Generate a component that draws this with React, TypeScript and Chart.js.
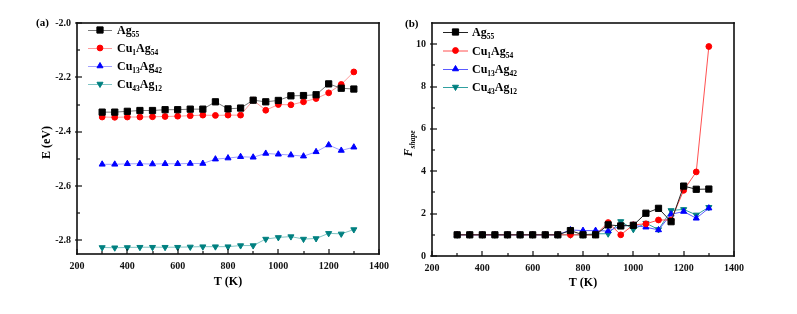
import React, { useEffect, useRef } from "react";
import { Chart, registerables } from "chart.js";

Chart.register(...registerables);

// ---------- data ----------
const temps = [300, 350, 400, 450, 500, 550, 600, 650, 700, 750, 800, 850, 900, 950, 1000, 1050, 1100, 1150, 1200, 1250, 1300];
const seriesNames = ["Ag55", "Cu1Ag54", "Cu13Ag42", "Cu43Ag12"];

// panel (a): E (eV)
const eAg55 = [-2.328, -2.328, -2.325, -2.322, -2.322, -2.319, -2.319, -2.317, -2.317, -2.290, -2.316, -2.313, -2.284, -2.290, -2.285, -2.268, -2.267, -2.264, -2.224, -2.240, -2.243];
const eCu1Ag54 = [-2.346, -2.347, -2.346, -2.346, -2.345, -2.344, -2.343, -2.341, -2.339, -2.340, -2.339, -2.339, -2.284, -2.321, -2.300, -2.301, -2.290, -2.278, -2.257, -2.226, -2.180];
const eCu13Ag42 = [-2.520, -2.520, -2.518, -2.518, -2.519, -2.518, -2.518, -2.517, -2.517, -2.501, -2.497, -2.492, -2.494, -2.480, -2.483, -2.486, -2.490, -2.474, -2.449, -2.469, -2.457];
const eCu43Ag12 = [-2.826, -2.827, -2.826, -2.825, -2.825, -2.825, -2.825, -2.824, -2.823, -2.823, -2.823, -2.819, -2.819, -2.795, -2.789, -2.786, -2.795, -2.793, -2.774, -2.776, -2.760];

// panel (b): F_shape
const fAg55 = [1.0, 1.0, 1.0, 1.0, 1.0, 1.0, 1.0, 1.0, 1.0, 1.2, 1.0, 1.0, 1.47, 1.42, 1.45, 2.02, 2.25, 1.62, 3.3, 3.15, 3.16];
const fCu1Ag54 = [1.0, 1.0, 1.0, 1.0, 1.0, 1.0, 1.0, 1.0, 1.0, 1.0, 1.0, 1.0, 1.58, 1.0, 1.47, 1.52, 1.7, 1.7, 3.1, 3.97, 9.89];
const fCu13Ag42 = [1.0, 1.0, 1.0, 1.0, 1.0, 1.0, 1.0, 1.0, 1.0, 1.23, 1.2, 1.2, 1.18, 1.42, 1.45, 1.36, 1.23, 1.97, 2.1, 1.78, 2.26];
const fCu43Ag12 = [1.0, 1.0, 1.0, 1.0, 1.0, 1.0, 1.0, 1.0, 1.0, 1.0, 1.0, 1.05, 1.05, 1.63, 1.26, 1.55, 1.25, 2.15, 2.2, 1.94, 2.3];

// ticks
const xMajorTicks = [200, 400, 600, 800, 1000, 1200, 1400];
const xMinorTicks = [300, 500, 700, 900, 1100, 1300];
const yMajorTicksA = [-2.8, -2.6, -2.4, -2.2, -2.0];
const yMinorTicksA = [-2.7, -2.5, -2.3, -2.1];
const yMajorTicksB = [0, 2, 4, 6, 8, 10];
const yMinorTicksB = [1, 3, 5, 7, 9];

// ---------- styling ----------
const FONT = "'Liberation Serif', 'Times New Roman', serif";
const AXIS_COLOR = "#111111";
const markerColors = ["#000000", "#ff0000", "#0000ff", "#008080"];
const lineColorsA = ["#7a7a7a", "#ff9a9a", "#a0a0ff", "#80c4c4"];
const lineColorsB = ["#222222", "#ff5050", "#5a5aff", "#30a0a0"];
const markerStyles = ["rect", "circle", "triangle", "triangle"];
const markerRot = [0, 0, 0, 180];
const markerRadius = [4.4, 2.9, 3.5, 3.5];

type Marker = { style: string; rot: number; r: number; color: string };

function drawMarker(ctx: CanvasRenderingContext2D, x: number, y: number, m: Marker) {
  ctx.save();
  ctx.fillStyle = m.color;
  ctx.strokeStyle = m.color;
  ctx.lineWidth = 1;
  ctx.beginPath();
  if (m.style === "rect") {
    const s = m.r * Math.SQRT1_2;
    ctx.rect(x - s, y - s, 2 * s, 2 * s);
  } else if (m.style === "circle") {
    ctx.arc(x, y, m.r, 0, Math.PI * 2);
  } else {
    let rad = (m.rot * Math.PI) / 180;
    ctx.moveTo(x + Math.sin(rad) * m.r, y - Math.cos(rad) * m.r);
    rad += (2 * Math.PI) / 3;
    ctx.lineTo(x + Math.sin(rad) * m.r, y - Math.cos(rad) * m.r);
    rad += (2 * Math.PI) / 3;
    ctx.lineTo(x + Math.sin(rad) * m.r, y - Math.cos(rad) * m.r);
    ctx.closePath();
  }
  ctx.fill();
  ctx.stroke();
  ctx.restore();
}

function splitFormula(name: string): [string, boolean][] {
  const out: [string, boolean][] = [];
  const re = /([A-Za-z]+)(\d*)/g;
  let m: RegExpExecArray | null;
  while ((m = re.exec(name)) !== null) {
    if (!m[0]) break;
    out.push([m[1], false]);
    if (m[2]) out.push([m[2], true]);
  }
  return out;
}

function drawRich(ctx: CanvasRenderingContext2D, x: number, baseline: number, parts: [string, boolean][], size: number, subSize: number, italic = false) {
  let cx = x;
  for (const [t, sub] of parts) {
    ctx.font = `${italic ? "italic " : ""}bold ${sub ? subSize : size}px ${FONT}`;
    ctx.fillText(t, cx, baseline + (sub ? size * 0.28 : 0));
    cx += ctx.measureText(t).width;
  }
  return cx - x;
}

type PanelCfg = {
  id: string;
  label: string;
  lineColors: string[];
  yMajor: number[];
  yMinor: number[];
  legendLineX: [number, number];
  legendTextX: number;
  legendRows: number[];
  labelPos: [number, number];
  yTitleX: number;
  yTitle: [string, boolean][];
  yTitleItalic: boolean;
  xTitleY: number;
};

function makeOverlay(cfg: PanelCfg) {
  return {
    id: "overlay" + cfg.id,
    afterDraw(chart: any) {
      const ctx: CanvasRenderingContext2D = chart.ctx;
      const ca = chart.chartArea;
      const xs = chart.scales.x;
      const ys = chart.scales.y;
      ctx.save();
      ctx.globalAlpha = 1;
      ctx.globalCompositeOperation = "source-over";
      ctx.fillStyle = "#000";
      ctx.textAlign = "left";
      ctx.textBaseline = "alphabetic";
      seriesNames.forEach((name, i) => {
        const y = cfg.legendRows[i];
        ctx.strokeStyle = cfg.lineColors[i];
        ctx.lineWidth = 1;
        ctx.beginPath();
        ctx.moveTo(cfg.legendLineX[0], y + 0.5);
        ctx.lineTo(cfg.legendLineX[1], y + 0.5);
        ctx.stroke();
        drawMarker(ctx, (cfg.legendLineX[0] + cfg.legendLineX[1]) / 2, y, {
          style: markerStyles[i], rot: markerRot[i], r: markerRadius[i], color: markerColors[i],
        });
        ctx.fillStyle = "#000";
        drawRich(ctx, cfg.legendTextX, y + 4, splitFormula(name), 12, 7.5);
      });

      ctx.fillStyle = "#000";
      ctx.font = `bold 11px ${FONT}`;
      ctx.textAlign = "left";
      ctx.textBaseline = "middle";
      ctx.fillText(cfg.label, cfg.labelPos[0], cfg.labelPos[1]);

      ctx.font = `bold 12px ${FONT}`;
      ctx.textAlign = "center";
      ctx.textBaseline = "middle";
      ctx.fillText("T (K)", (ca.left + ca.right) / 2, cfg.xTitleY);

      ctx.save();
      ctx.translate(cfg.yTitleX, (ca.top + ca.bottom) / 2 + 4);
      ctx.rotate(-Math.PI / 2);
      ctx.textAlign = "left";
      let w = 0;
      for (const [t, sub] of cfg.yTitle) {
        ctx.font = `${cfg.yTitleItalic ? "italic " : ""}bold ${sub ? 7.5 : 12}px ${FONT}`;
        w += ctx.measureText(t).width;
      }
      ctx.textBaseline = "alphabetic";
      drawRich(ctx, -w / 2, 4, cfg.yTitle, 12, 7.5, cfg.yTitleItalic);
      ctx.restore();

      // frame as filled bars (drawn last)
      const L = Math.round(ca.left), R = Math.round(ca.right);
      const T = Math.round(ca.top), B = Math.round(ca.bottom);
      const lw = 1.6;
      ctx.fillStyle = AXIS_COLOR;
      ctx.fillRect(L - lw / 2, T - lw / 2, R - L + lw, lw); // top
      ctx.fillRect(L - lw / 2, B - lw / 2, R - L + lw, lw); // bottom
      ctx.fillRect(L - lw / 2, T - lw / 2, lw, B - T + lw); // left
      ctx.fillRect(R - lw / 2, T - lw / 2, lw, B - T + lw); // right

      // inward ticks
      for (const v of xMajorTicks) {
        const px = Math.round(xs.getPixelForValue(v));
        ctx.fillRect(px - 0.6, B - 5, 1.2, 5);
      }
      for (const v of xMinorTicks) {
        const px = Math.round(xs.getPixelForValue(v));
        ctx.fillRect(px - 0.6, B - 3, 1.2, 3);
      }
      for (const v of cfg.yMajor) {
        const py = Math.round(ys.getPixelForValue(v));
        ctx.fillRect(L - 2, py - 0.6, 7, 1.2);
      }
      for (const v of cfg.yMinor) {
        const py = Math.round(ys.getPixelForValue(v));
        ctx.fillRect(L, py - 0.6, 3, 1.2);
      }

      ctx.restore();
    },
  };
}

function buildDatasets(values: number[][], lineColors: string[]) {
  return values.map((vals, i) => ({
    label: seriesNames[i],
    data: temps.map((t, k) => ({ x: t, y: vals[k] })),
    borderColor: lineColors[i],
    borderWidth: 1,
    backgroundColor: markerColors[i],
    pointBackgroundColor: markerColors[i],
    pointBorderColor: markerColors[i],
    pointBorderWidth: 1,
    pointStyle: markerStyles[i] as any,
    pointRotation: markerRot[i],
    pointRadius: markerRadius[i],
    tension: 0,
    fill: false,
  }));
}

function buildConfig(opts: {
  datasets: any[];
  yMin: number;
  yMax: number;
  yMajor: number[];
  yFmt: (v: number) => string;
  yWidth: number;
  xHeight: number;
  padding: { left: number; right: number; top: number; bottom: number };
  plugins: any[];
}) {
  const tickFont = { family: FONT, size: 10, weight: "bold" as const };
  return {
    type: "line" as const,
    data: { datasets: opts.datasets },
    options: {
      responsive: false,
      animation: false as const,
      devicePixelRatio: 1,
      layout: { padding: opts.padding },
      plugins: { legend: { display: false }, tooltip: { enabled: false } },
      scales: {
        x: {
          type: "linear" as const,
          min: 200,
          max: 1400,
          afterBuildTicks: (s: any) => { s.ticks = xMajorTicks.map((v) => ({ value: v })); },
          afterFit: (s: any) => { s.height = opts.xHeight; },
          grid: { display: false, drawTicks: false },
          border: { display: false },
          ticks: { font: tickFont, color: "#111", padding: 6, maxRotation: 0, autoSkip: false, callback: (v: any) => String(v) },
        },
        y: {
          type: "linear" as const,
          min: opts.yMin,
          max: opts.yMax,
          afterBuildTicks: (s: any) => { s.ticks = opts.yMajor.map((v) => ({ value: v })); },
          afterFit: (s: any) => { s.width = opts.yWidth; },
          grid: { display: false, drawTicks: false },
          border: { display: false },
          ticks: { font: tickFont, color: "#111", padding: 6, autoSkip: false, callback: (v: any) => opts.yFmt(Number(v)) },
        },
      },
    },
    plugins: opts.plugins,
  };
}

export default function App() {
  const refA = useRef<HTMLCanvasElement>(null);
  const refB = useRef<HTMLCanvasElement>(null);

  useEffect(() => {
    const cfgA: PanelCfg = {
      id: "A",
      label: "(a)",
      lineColors: lineColorsA,
      yMajor: yMajorTicksA,
      yMinor: yMinorTicksA,
      legendLineX: [88, 112],
      legendTextX: 117,
      legendRows: [30, 48, 66, 84],
      labelPos: [36, 23],
      yTitleX: 46,
      yTitle: [["E (eV)", false]],
      yTitleItalic: false,
      xTitleY: 282,
    };
    const cfgB: PanelCfg = {
      id: "B",
      label: "(b)",
      lineColors: lineColorsB,
      yMajor: yMajorTicksB,
      yMinor: yMinorTicksB,
      legendLineX: [43, 68],
      legendTextX: 72,
      legendRows: [32, 50.5, 69, 87],
      labelPos: [5, 24],
      yTitleX: 8,
      yTitle: [["F", false], ["shape", true]],
      yTitleItalic: true,
      xTitleY: 283,
    };
    const chartA = new Chart(
      refA.current as HTMLCanvasElement,
      buildConfig({
        datasets: buildDatasets([eAg55, eCu1Ag54, eCu13Ag42, eCu43Ag12], lineColorsA),
        yMin: -2.85,
        yMax: -2.0,
        yMajor: yMajorTicksA,
        yFmt: (v) => v.toFixed(1),
        yWidth: 57,
        xHeight: 60,
        padding: { left: 20, right: 21, top: 23, bottom: 0 },
        plugins: [makeOverlay(cfgA)],
      }) as any
    );
    const chartB = new Chart(
      refB.current as HTMLCanvasElement,
      buildConfig({
        datasets: buildDatasets([fAg55, fCu1Ag54, fCu13Ag42, fCu43Ag12], lineColorsB),
        yMin: 0,
        yMax: 11,
        yMajor: yMajorTicksB,
        yFmt: (v) => String(Math.round(v)),
        yWidth: 32,
        xHeight: 58,
        padding: { left: 0, right: 63, top: 23, bottom: 0 },
        plugins: [makeOverlay(cfgB)],
      }) as any
    );
    return () => {
      chartA.destroy();
      chartB.destroy();
    };
  }, []);

  return (
    <div style={{ position: "absolute", left: 0, top: 0, width: 797, height: 314, background: "#fff", overflow: "hidden" }}>
      <canvas ref={refA} width={400} height={314} style={{ position: "absolute", left: 0, top: 0, width: 400, height: 314 }} />
      <canvas ref={refB} width={397} height={314} style={{ position: "absolute", left: 400, top: 0, width: 397, height: 314 }} />
    </div>
  );
}
